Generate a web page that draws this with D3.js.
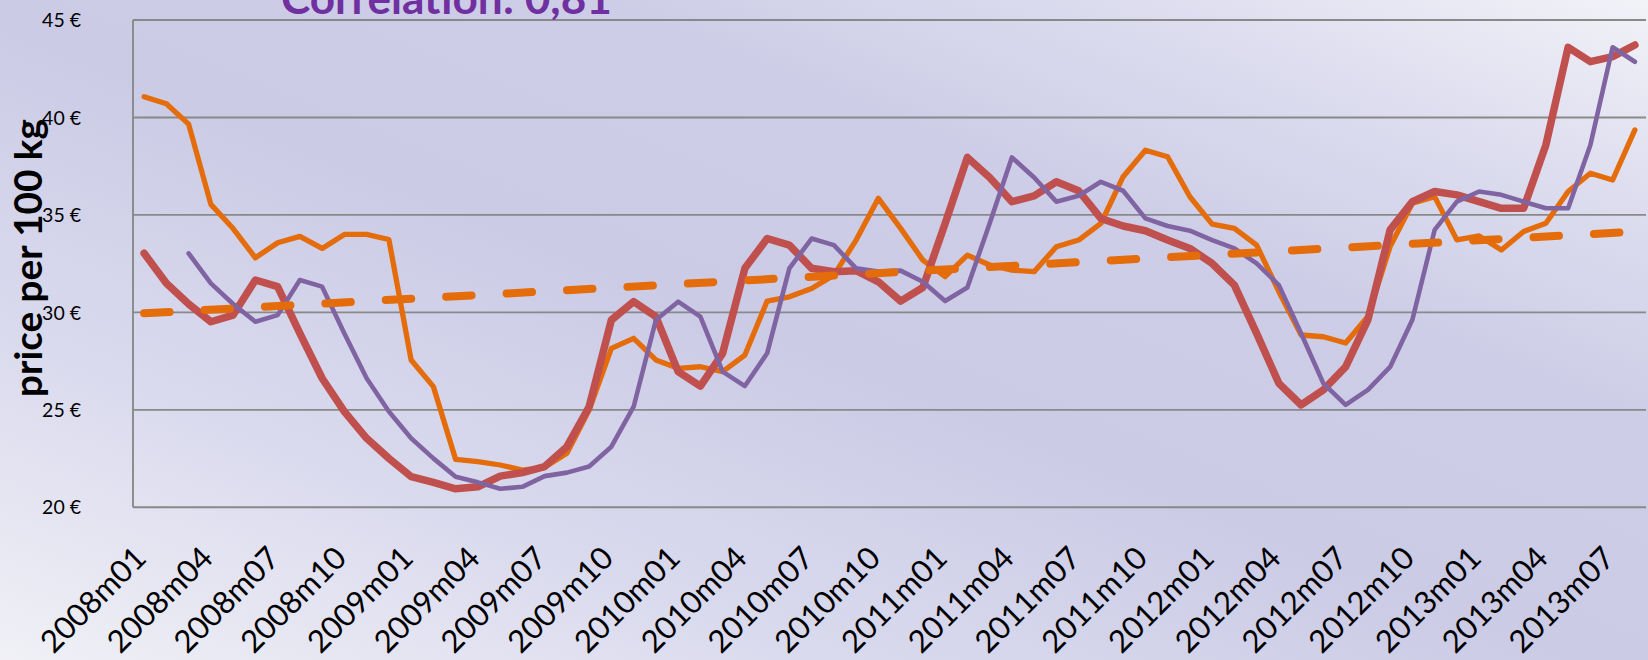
<!DOCTYPE html>
<html>
<head>
<meta charset="utf-8">
<script src="https://cdn.jsdelivr.net/npm/d3@7"></script>
<style>
  html, body { margin: 0; padding: 0; overflow: hidden; background: #ffffff; }
  svg { display: block; }
</style>
</head>
<body>
<svg id="chart" width="1648" height="660"></svg>
<script>
// ---- data -------------------------------------------------------------
const months = [
  "2008m01","2008m02","2008m03","2008m04","2008m05","2008m06","2008m07","2008m08","2008m09","2008m10","2008m11","2008m12",
  "2009m01","2009m02","2009m03","2009m04","2009m05","2009m06","2009m07","2009m08","2009m09","2009m10","2009m11","2009m12",
  "2010m01","2010m02","2010m03","2010m04","2010m05","2010m06","2010m07","2010m08","2010m09","2010m10","2010m11","2010m12",
  "2011m01","2011m02","2011m03","2011m04","2011m05","2011m06","2011m07","2011m08","2011m09","2011m10","2011m11","2011m12",
  "2012m01","2012m02","2012m03","2012m04","2012m05","2012m06","2012m07","2012m08","2012m09","2012m10","2012m11","2012m12",
  "2013m01","2013m02","2013m03","2013m04","2013m05","2013m06","2013m07","2013m08"
];

const tickLabels = [
  "2008m01","2008m04","2008m07","2008m10",
  "2009m01","2009m04","2009m07","2009m10",
  "2010m01","2010m04","2010m07","2010m10",
  "2011m01","2011m04","2011m07","2011m10",
  "2012m01","2012m04","2012m07","2012m10",
  "2013m01","2013m04","2013m07"
];

// orange series
const priceOrange = [
  41.06, 40.70, 39.66, 35.54, 34.30, 32.80, 33.57, 33.90, 33.28, 34.00, 34.00, 33.74,
  27.56, 26.19, 22.46, 22.34, 22.17, 21.91, 22.05, 22.77, 24.99, 28.15, 28.67, 27.56,
  27.13, 27.21, 26.96, 27.81, 30.58, 30.80, 31.23, 31.91, 33.71, 35.85, 34.31, 32.68,
  31.83, 32.94, 32.43, 32.17, 32.09, 33.37, 33.71, 34.56, 36.96, 38.32, 37.98, 35.93,
  34.53, 34.31, 33.45, 31.06, 28.84, 28.75, 28.43, 29.79, 33.38, 35.60, 35.94, 33.72,
  33.92, 33.20, 34.15, 34.57, 36.20, 37.14, 36.79, 39.36
];

// red series
const priceRed = [
  33.03, 31.49, 30.43, 29.52, 29.86, 31.66, 31.32, 28.92, 26.62, 24.91, 23.54, 22.51,
  21.57, 21.28, 20.95, 21.05, 21.60, 21.78, 22.09, 23.11, 25.16, 29.61, 30.55, 29.78,
  26.96, 26.22, 27.90, 32.26, 33.79, 33.45, 32.26, 32.09, 32.14, 31.57, 30.58, 31.28,
  34.56, 37.95, 36.92, 35.68, 35.98, 36.70, 36.24, 34.82, 34.43, 34.19, 33.71, 33.28,
  32.51, 31.40, 28.92, 26.36, 25.25, 26.02, 27.20, 29.62, 34.23, 35.68, 36.20, 36.03,
  35.68, 35.34, 35.34, 38.59, 43.60, 42.86, 43.12, 43.72
];

// purple series (starts in 2008m03)
const pricePurple = [
  null,  null,  33.03, 31.49, 30.43, 29.52, 29.86, 31.66, 31.32, 28.92, 26.62, 24.91,
  23.54, 22.51, 21.57, 21.28, 20.95, 21.05, 21.60, 21.78, 22.09, 23.11, 25.16, 29.61,
  30.55, 29.78, 26.96, 26.22, 27.90, 32.26, 33.79, 33.45, 32.26, 32.09, 32.14, 31.57,
  30.58, 31.28, 34.56, 37.95, 36.92, 35.68, 35.98, 36.70, 36.24, 34.82, 34.43, 34.19,
  33.71, 33.28, 32.51, 31.40, 28.92, 26.36, 25.25, 26.02, 27.20, 29.62, 34.23, 35.68,
  36.20, 36.03, 35.68, 35.34, 35.34, 38.59, 43.60, 42.86
];

// linear trend of the orange series: value at first and last month
const trendEnds = [29.95, 34.14];

const yTicks = [20, 25, 30, 35, 40, 45];
const chartTitle = "Correlation: 0,81";
const yAxisTitle = "price per 100 kg";

// ---- layout -----------------------------------------------------------
const W = 1648, H = 660;
const plot = { left: 133, right: 1646, top: 20, bottom: 507.3 };
const FONT = "Lato, 'Open Sans', 'DejaVu Sans', sans-serif";

const svg = d3.select("#chart");

// chart background gradient
const defs = svg.append("defs");
const grad = defs.append("linearGradient")
  .attr("id", "bg")
  .attr("x1", 0).attr("y1", 1).attr("x2", 1).attr("y2", 0);
[
  [0.00, "#f0f0f6"],
  [0.25, "#dadaee"],
  [0.48, "#cbcbe6"],
  [0.68, "#cdcde7"],
  [0.86, "#dfdff0"],
  [1.00, "#f2f2f8"]
].forEach(([o, c]) => grad.append("stop").attr("offset", o).attr("stop-color", c));

svg.append("rect").attr("width", W).attr("height", H).attr("fill", "url(#bg)");

// scales
const x = d3.scaleBand().domain(months).range([plot.left, plot.right]).padding(0);
const xc = m => x(m) + x.bandwidth() / 2;
const y = d3.scaleLinear().domain([20, 45]).range([plot.bottom, plot.top]);

// horizontal gridlines
svg.append("g").selectAll("line").data(yTicks).join("line")
  .attr("x1", plot.left).attr("x2", plot.right)
  .attr("y1", d => y(d)).attr("y2", d => y(d))
  .attr("stroke", "#898989").attr("stroke-width", 1.9);

// value axis line
svg.append("line")
  .attr("x1", plot.left).attr("x2", plot.left)
  .attr("y1", plot.top).attr("y2", plot.bottom)
  .attr("stroke", "#898989").attr("stroke-width", 1.9);

// value axis labels
const yAxis = d3.axisLeft(y).tickValues(yTicks).tickSize(0).tickPadding(0)
  .tickFormat(d => d + " €");
const gy = svg.append("g").attr("transform", `translate(81,0)`).call(yAxis);
gy.select(".domain").remove();
gy.selectAll("text")
  .attr("font-family", FONT).attr("font-size", 19.5).attr("fill", "#000")
  .attr("dy", "0.34em");

// category axis labels, rotated
const gx = svg.append("g");
const xl = gx.selectAll("text").data(tickLabels).join("text")
  .attr("transform", d => `translate(${xc(d) + 4},560) rotate(-45)`)
  .attr("text-anchor", "end")
  .attr("font-family", FONT)
  .attr("font-size", 28)
  .attr("fill", "#000")
  .text(d => d);
{
  const len = xl.node().getComputedTextLength();
  xl.attr("font-size", 28 * 134 / len);
}

// y axis title
const yt = svg.append("text")
  .attr("transform", "translate(42,258) rotate(-90)")
  .attr("text-anchor", "middle")
  .attr("font-family", FONT).attr("font-weight", 700)
  .attr("font-size", 30).attr("fill", "#000")
  .text(yAxisTitle);
{
  const len = yt.node().getComputedTextLength();
  yt.attr("font-size", 30 * 278 / len);
}

// chart title (partly above the top edge)
const tt = svg.append("text")
  .attr("x", 281).attr("y", 14)
  .attr("font-family", FONT).attr("font-weight", 700)
  .attr("font-size", 34).attr("fill", "#7030a0")
  .text(chartTitle);
{
  const len = tt.node().getComputedTextLength();
  tt.attr("font-size", 34 * 331 / len);
}

// ---- series -----------------------------------------------------------
const line = d3.line()
  .defined(d => d.v != null)
  .x(d => xc(d.m))
  .y(d => y(d.v));

const seriesDefs = [
  { values: priceOrange, color: "#e46c0a", width: 5.3 },
  { values: priceRed,    color: "#c0504d", width: 7.5 },
  { values: pricePurple, color: "#8064a2", width: 4.6 }
];

svg.append("g").selectAll("path").data(seriesDefs).join("path")
  .attr("d", s => line(months.map((m, i) => ({ m, v: s.values[i] }))))
  .attr("fill", "none")
  .attr("stroke", s => s.color)
  .attr("stroke-width", s => s.width)
  .attr("stroke-linejoin", "round")
  .attr("stroke-linecap", "round");

// dashed trend line
svg.append("path")
  .attr("d", line([
    { m: months[0], v: trendEnds[0] },
    { m: months[months.length - 1], v: trendEnds[1] }
  ]))
  .attr("fill", "none")
  .attr("stroke", "#e46c0a")
  .attr("stroke-width", 8)
  .attr("stroke-linecap", "round")
  .attr("stroke-dasharray", "25.5 35");
</script>
</body>
</html>
